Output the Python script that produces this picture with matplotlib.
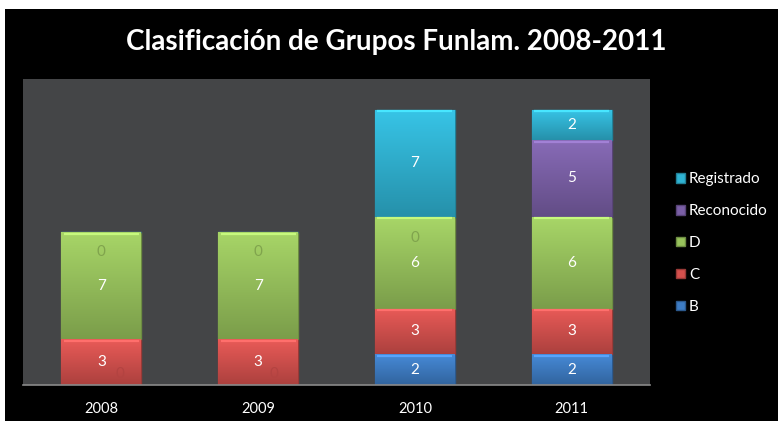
import matplotlib
matplotlib.use("Agg")
import matplotlib.pyplot as plt
import matplotlib.colors as mcolors
import numpy as np

years = ["2008", "2009", "2010", "2011"]
series_names = ["B", "C", "D", "Reconocido", "Registrado"]
B = [0, 0, 2, 2]
C = [3, 3, 3, 3]
D = [7, 7, 6, 6]
Reconocido = [0, 0, 0, 5]
Registrado = [0, 0, 7, 2]
title = "Clasificación de Grupos Funlam. 2008-2011"

colors = {
    "B": "#3D7CC4",
    "C": "#D5504D",
    "D": "#98C35C",
    "Reconocido": "#7A5FA6",
    "Registrado": "#2FB3D3",
}

# faint labels of zero-valued segments (category index, x offset, y value, series)
zero_labels = [
    (0, 0.0, 8.7, "D"), (0, 0.12, 0.7, "C"),
    (1, 0.0, 8.7, "D"), (1, 0.10, 0.7, "C"),
    (2, 0.0, 9.6, "D"),
]

plt.rcParams['font.family'] = ['Lato', 'DejaVu Sans']

fig = plt.figure(figsize=(7.78, 4.21), dpi=100)
fig.patch.set_facecolor("black")
# white borders at top and left
fig.patches.append(matplotlib.patches.Rectangle((0, 1 - 9 / 421), 1, 9 / 421, transform=fig.transFigure,
                                                facecolor="white", edgecolor="none", zorder=-1))
fig.patches.append(matplotlib.patches.Rectangle((0, 0), 5 / 778, 1, transform=fig.transFigure,
                                                facecolor="white", edgecolor="none", zorder=-1))

ax = fig.add_axes([23 / 778, 36 / 421, 627 / 778, 306 / 421])
ax.set_facecolor("#444547")

x = np.arange(len(years))
data = {"B": B, "C": C, "D": D, "Reconocido": Reconocido, "Registrado": Registrado}
bottom = np.zeros(len(years))
width = 0.51
handles = []
for name in series_names:
    vals = np.array(data[name], dtype=float)
    base = mcolors.to_rgb(colors[name])
    dark = tuple(c * 0.72 for c in base)
    bars = ax.bar(x, vals, width, bottom=bottom, color=colors[name], edgecolor=dark,
                  linewidth=1.0, zorder=2, label=name)
    handles.append(bars)
    for rect, v in zip(bars, vals):
        if v <= 0:
            continue
        # vertical gradient clipped to the bar
        top_c = np.array([min(1, c * 1.07 + 0.02) for c in base])
        bot_c = np.array(dark) * 1.12
        grad = np.linspace(0, 1, 64)[:, None]
        img = top_c[None, None, :] * (1 - grad[..., None]) + bot_c[None, None, :] * grad[..., None]
        img = np.clip(img, 0, 1)
        x0, y0 = rect.get_x(), rect.get_y()
        w, h = rect.get_width(), rect.get_height()
        im = ax.imshow(img, extent=(x0, x0 + w, y0, y0 + h), aspect="auto", zorder=2.1,
                       origin="upper", interpolation="bilinear")
        im.set_clip_path(rect)
        # top highlight
        ax.plot([x0 + 0.015, x0 + w - 0.015], [y0 + h - 0.1, y0 + h - 0.1],
                color=tuple(min(1, c * 1.2 + 0.06) for c in base), lw=1.6, zorder=2.2,
                solid_capstyle="butt")
        ax.text(x0 + w / 2, y0 + h / 2, f"{int(v)}", ha="center", va="center",
                color="white", fontsize=11, zorder=3)
    bottom += vals

for ci, dx, yv, name in zero_labels:
    base = mcolors.to_rgb(colors[name])
    ax.text(x[ci] + dx, yv, "0", ha="center", va="center",
            color=tuple(c * 0.84 for c in base), fontsize=11, zorder=4)

ax.set_xlim(-0.5, len(years) - 0.5)
ax.set_ylim(0, 20)
ax.set_xticks(x)
ax.set_xticklabels(years, color="white", fontsize=10.5)
ax.tick_params(axis="x", length=0, pad=12)
ax.set_yticks([])
for s in ["top", "right", "left"]:
    ax.spines[s].set_visible(False)
ax.spines["bottom"].set_color("#8a8a8a")
ax.spines["bottom"].set_linewidth(1.2)

fig.text(396 / 778, 1 - 42 / 421, title, ha="center", va="center", color="white",
         fontsize=20, fontweight="bold")

leg = fig.legend(handles[::-1], series_names[::-1], loc="center left",
                 bbox_to_anchor=(676 / 778, 1 - 243 / 421), frameon=False,
                 labelcolor="white", fontsize=11, handlelength=0.6, handleheight=0.6,
                 handletextpad=0.25, labelspacing=1.17, borderpad=0, borderaxespad=0)

fig.savefig("out.png", dpi=100, facecolor=fig.get_facecolor())
